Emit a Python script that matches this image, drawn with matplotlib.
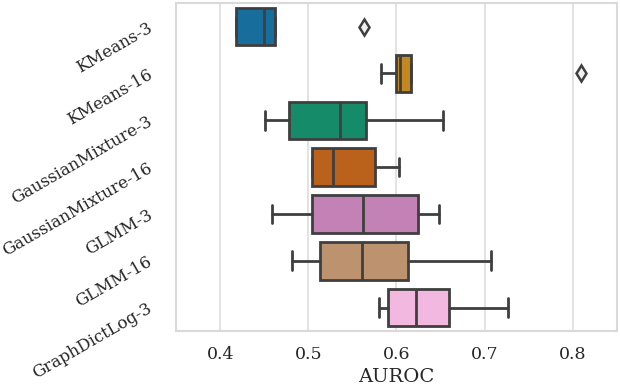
import matplotlib
matplotlib.use("Agg")
import matplotlib.pyplot as plt
import seaborn as sns

categories = ["KMeans-3", "KMeans-16", "GaussianMixture-3", "GaussianMixture-16",
              "GLMM-3", "GLMM-16", "GraphDictLog-3"]
whislo = [0.418, 0.5825, 0.4513, 0.5044, 0.4584, 0.481, 0.5802]
q1 = [0.418, 0.600, 0.478, 0.5044, 0.5044, 0.5127, 0.590]
med = [0.450, 0.6036, 0.5357, 0.528, 0.5618, 0.5614, 0.622]
q3 = [0.462, 0.6168, 0.5659, 0.5753, 0.624, 0.6134, 0.659]
whishi = [0.462, 0.6168, 0.653, 0.6029, 0.6477, 0.7069, 0.7261]
fliers = [[0.5629], [0.8088], [], [], [], [], []]
xticks = [0.4, 0.5, 0.6, 0.7, 0.8]

sns.set_theme(style="whitegrid")
plt.rcParams["font.family"] = ["DejaVu Serif"]

fig = plt.figure(figsize=(6.2, 3.9), dpi=100)
ax = fig.add_axes([0.284, 0.151, 0.711, 0.841])

palette = sns.color_palette("colorblind", len(categories))
colors = [sns.desaturate(c, 0.75) for c in palette]
gray = "#3f3f3f"

stats = []
for i, name in enumerate(categories):
    stats.append(dict(label=name, whislo=whislo[i], q1=q1[i], med=med[i],
                      q3=q3[i], whishi=whishi[i], fliers=fliers[i]))

positions = list(range(len(categories)))
bp = ax.bxp(stats, positions=positions, vert=False, widths=0.8, patch_artist=True,
            boxprops=dict(edgecolor=gray, linewidth=2),
            medianprops=dict(color=gray, linewidth=2),
            whiskerprops=dict(color=gray, linewidth=2),
            capprops=dict(color=gray, linewidth=2),
            flierprops=dict(marker="d", markersize=8, markerfacecolor="#f0f0f0",
                            markeredgecolor=gray, markeredgewidth=1.8))
for patch, c in zip(bp["boxes"], colors):
    patch.set_facecolor(c)

ax.set_ylim(len(categories) - 0.5, -0.5)
ax.set_xlim(0.35, 0.85)
ax.set_xticks(xticks)
ax.set_xticklabels([f"{t:.1f}" for t in xticks], fontsize=12.5)
ax.set_yticks(positions)
ax.set_yticklabels(categories, rotation=30, ha="right", va="center",
                   rotation_mode="anchor", fontsize=12)
ax.set_xlabel("AUROC", fontsize=14, labelpad=3)
ax.grid(axis="y", visible=False)
ax.grid(axis="x", color="#dddddd", linewidth=1.2)
for s in ax.spines.values():
    s.set_color("#d9d9d9")
    s.set_linewidth(1.5)
ax.tick_params(axis="x", length=0, pad=11)
ax.tick_params(axis="y", length=0, pad=18)

fig.savefig("out.png", dpi=100)
